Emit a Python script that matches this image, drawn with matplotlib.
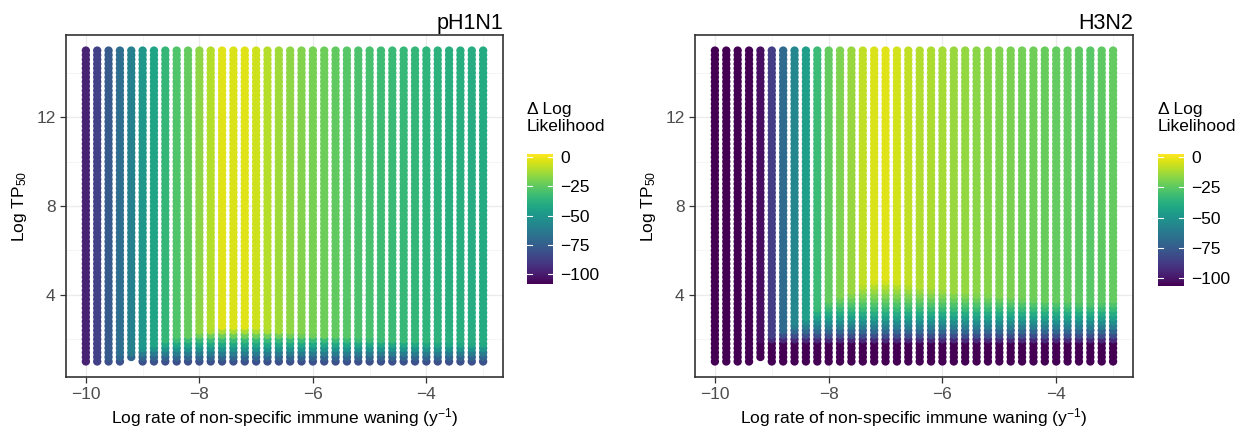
import matplotlib.pyplot as plt
import numpy as np
from matplotlib.colors import Normalize

plt.rcParams['font.family'] = ['Liberation Sans', 'DejaVu Sans']
plt.rcParams['mathtext.fontset'] = 'custom'
plt.rcParams['mathtext.rm'] = 'Liberation Sans'
plt.rcParams['mathtext.it'] = 'Liberation Sans:italic'

# Grid of the parameter search
x_vals = [-10.0, -9.8, -9.6, -9.4, -9.2, -9.0, -8.8, -8.6, -8.4, -8.2,
          -8.0, -7.8, -7.6, -7.4, -7.2, -7.0, -6.8, -6.6, -6.4, -6.2,
          -6.0, -5.8, -5.6, -5.4, -5.2, -5.0, -4.8, -4.6, -4.4, -4.2,
          -4.0, -3.8, -3.6, -3.4, -3.2, -3.0]
y_vals = np.round(np.arange(1.0, 15.01, 0.2), 1)
missing = [(-9.2, 1.0)]

# Delta log likelihood read per column (bulk of the column)
ph1n1_cols = [-96, -86, -76, -68, -60, -50, -44, -36, -29, -25,
              -18, -12, -5, -6, -5, -8, -12, -15, -18, -20,
              -22, -24, -26, -28, -30, -31, -33, -34, -35, -36,
              -37, -38, -39, -39, -40, -41]
# ceiling on the lowest rows (y = 1.0, 1.2, ...)
ph1n1_low = [-80, -72, -62, -52, -43, -34, -24, -14]

h3n2_cols = [-106, -106, -106, -106, -100, -85, -68, -56, -46, -33,
             -25, -20, -16, -10, -6, -5, -7, -10, -12, -13,
             -14, -16, -17, -18, -19, -20, -21, -22, -23, -24,
             -25, -25, -26, -27, -26, -25]
h3n2_low = [-106, -106, -106, -106, -104, -92, -80, -70, -61, -53,
            -46, -40, -34, -29, -24, -20, -16, -12, -8, -5]

cb_ticks = [0, -25, -50, -75, -100]


def grid_points(cols, low):
    xs, ys, vs = [], [], []
    for i, x in enumerate(x_vals):
        for j, y in enumerate(y_vals):
            if (x, y) in missing:
                continue
            v = cols[i]
            if j < len(low):
                v = min(v, low[j])
            xs.append(x)
            ys.append(y)
            vs.append(v)
    return xs, ys, vs


fig = plt.figure(figsize=(12.5, 4.34), dpi=100)

panels = [
    ('pH1N1', ph1n1_cols, ph1n1_low, -106, [0.0528, 0.1313, 0.3496, 0.788], [0.4216, 0.3456, 0.0208, 0.2995]),
    ('H3N2', h3n2_cols, h3n2_low, -104, [0.556, 0.1313, 0.3504, 0.788], [0.9264, 0.3410, 0.0208, 0.3040]),
]

fs = 12.5

for name, cols, low, vmin, pos, cpos in panels:
    ax = fig.add_axes(pos)
    norm = Normalize(vmin=vmin, vmax=0)
    xs, ys, vs = grid_points(cols, low)
    ax.scatter(xs, ys, c=vs, cmap='viridis', norm=norm, s=36, linewidths=0, zorder=3)

    ax.set_xlim(-10.35, -2.65)
    ax.set_ylim(0.3, 15.7)
    ax.set_xticks([-10, -8, -6, -4])
    ax.set_xticks([-9, -7, -5, -3], minor=True)
    ax.set_yticks([4, 8, 12])
    ax.set_yticks([2, 6, 10, 14], minor=True)
    ax.grid(which='major', color='#EBEBEB', linewidth=0.9, zorder=0)
    ax.grid(which='minor', color='#F2F2F2', linewidth=0.5, zorder=0)
    ax.set_axisbelow(True)
    for s in ax.spines.values():
        s.set_color('#333333')
        s.set_linewidth(1.2)
    ax.tick_params(which='major', length=4, width=0.9, color='#333333',
                   labelsize=fs, labelcolor='#4D4D4D')
    ax.tick_params(which='minor', length=0)
    ax.set_title(name, loc='right', fontsize=15.5, pad=4)
    ax.set_xlabel('Log rate of non-specific immune waning (y$^{-1}$)', fontsize=fs, labelpad=3)
    ax.set_ylabel('Log TP$_{50}$', fontsize=fs, labelpad=5)

    # ggplot style colour bar
    cax = fig.add_axes(cpos)
    d = -vmin / 38.0
    grad = np.linspace(vmin, 0, 300).reshape(-1, 1)
    cax.imshow(grad, aspect='auto', cmap='viridis', norm=norm, origin='lower',
               extent=(0, 1, vmin - d, d))
    cax.set_xlim(0, 1)
    cax.set_ylim(vmin - d, d)
    for t in cb_ticks:
        cax.plot([0, 0.2], [t, t], color='white', lw=0.8)
        cax.plot([0.8, 1], [t, t], color='white', lw=0.8)
    cax.set_xticks([])
    cax.yaxis.tick_right()
    cax.set_yticks(cb_ticks)
    cax.set_yticklabels([str(t).replace('-', '\u2212') for t in cb_ticks])
    cax.tick_params(axis='y', length=0, pad=5, labelsize=fs)
    for s in cax.spines.values():
        s.set_visible(False)
    fig.text(cpos[0], 0.765, '\u0394 Log\nLikelihood', ha='left', va='top',
             fontsize=fs, linespacing=1.2)

fig.savefig('out.png', dpi=100)
